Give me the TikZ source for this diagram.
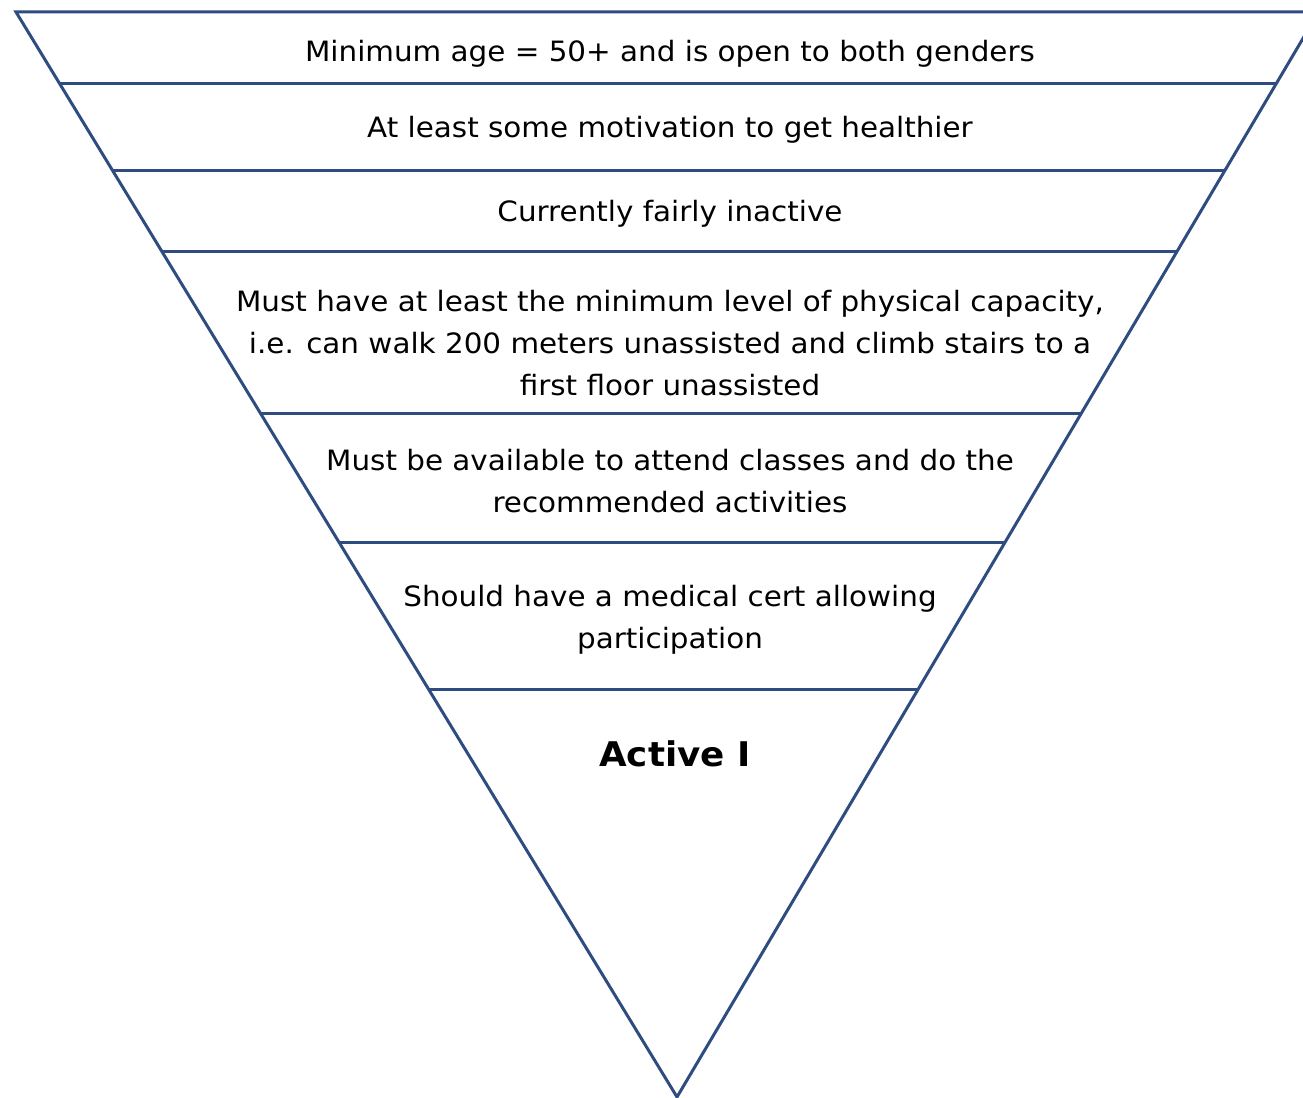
\documentclass[tikz,border=0pt]{standalone}
\usepackage{fontspec}
\setmainfont{DejaVu Sans}[FakeStretch=1.05]
\usetikzlibrary{calc}
\definecolor{funnelblue}{RGB}{46,76,128}

\begin{document}
\begin{tikzpicture}[x=1pt,y=1pt]
\tikzstyle{tier}=[draw=funnelblue,line width=3pt,line join=miter]
\tikzstyle{txt}=[align=center,inner sep=0pt,font=\fontsize{28}{42}\selectfont]
\tikzstyle{goal}=[inner sep=0pt,font=\fontsize{34}{40}\selectfont\bfseries]
\useasboundingbox (0,0) rectangle (1303,-1097);
\clip (0,0) rectangle (1303,-1097);

\coordinate (tl) at (16,-12);
\coordinate (tr) at (1318.6,-12);
\coordinate (tip) at (677,-1097);

\draw[tier] (tl) -- (tr) -- (tip) -- cycle;
\foreach \y [evaluate=\y as \t using (\y-12)/1085] in {84,171,251,413,543,689}
  \draw[tier] ($(tl)!\t!(tip)$) -- ($(tr)!\t!(tip)$);

\node[txt] at (670,-54) (0) {Minimum age = 50+ and is open to both genders};
\node[txt] at (670,-130) (1) {At least some motivation to get healthier};
\node[txt] at (670,-214) (2) {Currently fairly inactive};
\node[txt] at (670,-343) (3) {Must have at least the minimum level of physical capacity,\\
i.e. can walk 200 meters unassisted and climb stairs to a\\ first floor unassisted};
\node[txt] at (670,-481) (4) {Must be available to attend classes and do the\\ recommended activities};
\node[txt] at (670,-620) (5) {Should have a medical cert allowing\\ participation};
\node[goal] at (675,-754) (6) {Active I};

\end{tikzpicture}
\end{document}
